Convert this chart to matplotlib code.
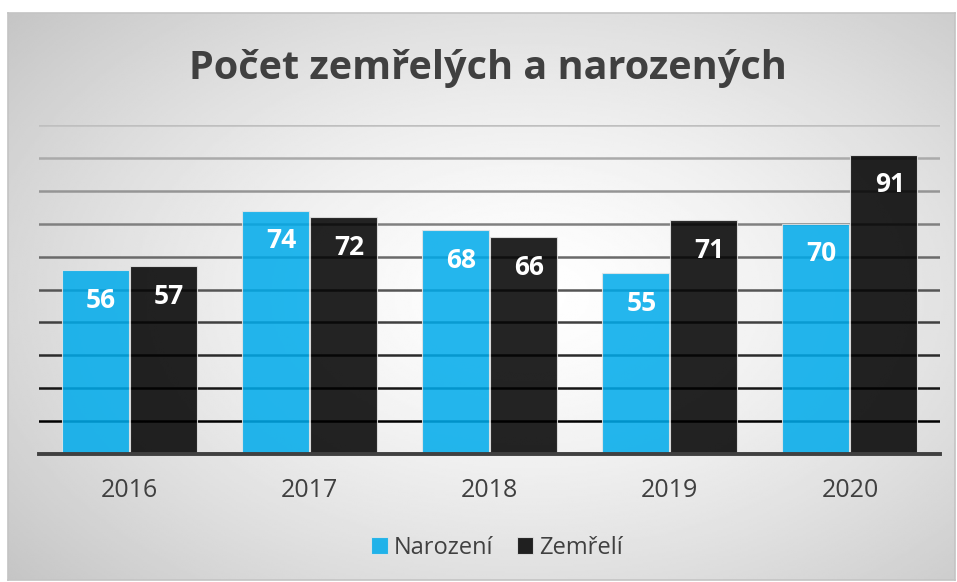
import matplotlib.pyplot as plt
import numpy as np

# Data
years = ["2016", "2017", "2018", "2019", "2020"]
narozeni = [56, 74, 68, 55, 70]
zemreli = [57, 72, 66, 71, 91]
grid_levels = list(range(10, 101, 10))

W, H = 957, 582
fig = plt.figure(figsize=(W / 100, H / 100), dpi=100)
fig.patch.set_facecolor("white")

# radial gradient background of the chart frame
bg = fig.add_axes([8 / W, 1 - 580 / H, (955 - 8) / W, (580 - 13) / H], zorder=0)
yy, xx = np.mgrid[0:1:300j, 0:1:500j]
r = np.sqrt(((xx - 0.55) / 0.75) ** 2 + ((yy - 0.5) / 0.8) ** 2)
shade = 1.0 - 0.24 * np.clip(r, 0, 1) ** 1.4
bg.imshow(shade, cmap="gray", vmin=0, vmax=1, aspect="auto", extent=[0, 1, 0, 1])
bg.set_xticks([])
bg.set_yticks([])
for s in bg.spines.values():
    s.set_color("#c4c4c4")
    s.set_linewidth(1.2)

ax = fig.add_axes([39 / W, 1 - 454 / H, (940 - 39) / W, (454 - 125) / H], zorder=1)
ax.patch.set_alpha(0)

x = np.arange(len(years))
w = 0.372

# gridlines, darker toward the baseline
for lvl in grid_levels:
    g = 0.0 + 0.75 * (lvl - 10) / 90
    ax.axhline(lvl, color=(g, g, g), linewidth=1.8, zorder=1)

b1 = ax.bar(x - w / 2 - 0.003, narozeni, w, color="#00abeb", edgecolor="#e6e6e6",
            linewidth=0.8, alpha=0.86, zorder=2, label="Narození")
b2 = ax.bar(x + w / 2 + 0.003, zemreli, w, color="#000000", edgecolor="#e6e6e6",
            linewidth=0.8, alpha=0.86, zorder=2, label="Zemřelí")

for bars, vals in [(b1, narozeni), (b2, zemreli)]:
    for rect, v in zip(bars, vals):
        ax.text(rect.get_x() + rect.get_width() / 2 + 0.033, v - 9.2, str(v),
                ha="center", va="center", color="white", fontsize=19,
                fontweight="bold", family="Open Sans", zorder=3)

ax.set_xlim(-0.5, 4.5)
ax.set_ylim(0, 100)
ax.set_yticks([])
ax.set_xticks(x)
ax.set_xticklabels(years, fontsize=18, color="#404040", family="Open Sans")
ax.tick_params(axis="x", length=0, pad=17)
for side in ["top", "right", "left"]:
    ax.spines[side].set_visible(False)
ax.spines["bottom"].set_color("#404040")
ax.spines["bottom"].set_linewidth(2.8)
ax.spines["bottom"].set_zorder(4)

fig.text(488 / W, 1 - 69 / H, "Počet zemřelých a narozených", ha="center", va="center",
         fontsize=28.5, fontweight="bold", color="#404040", family="Open Sans")

fig.legend(handles=[b1, b2], loc="center", bbox_to_anchor=(497 / W, 1 - 548 / H),
           ncol=2, frameon=False, prop={"family": "Open Sans", "size": 17},
           handlelength=0.7, handleheight=0.7, handletextpad=0.25, columnspacing=1.0,
           labelcolor="#404040")

fig.savefig("out.png", dpi=100)
